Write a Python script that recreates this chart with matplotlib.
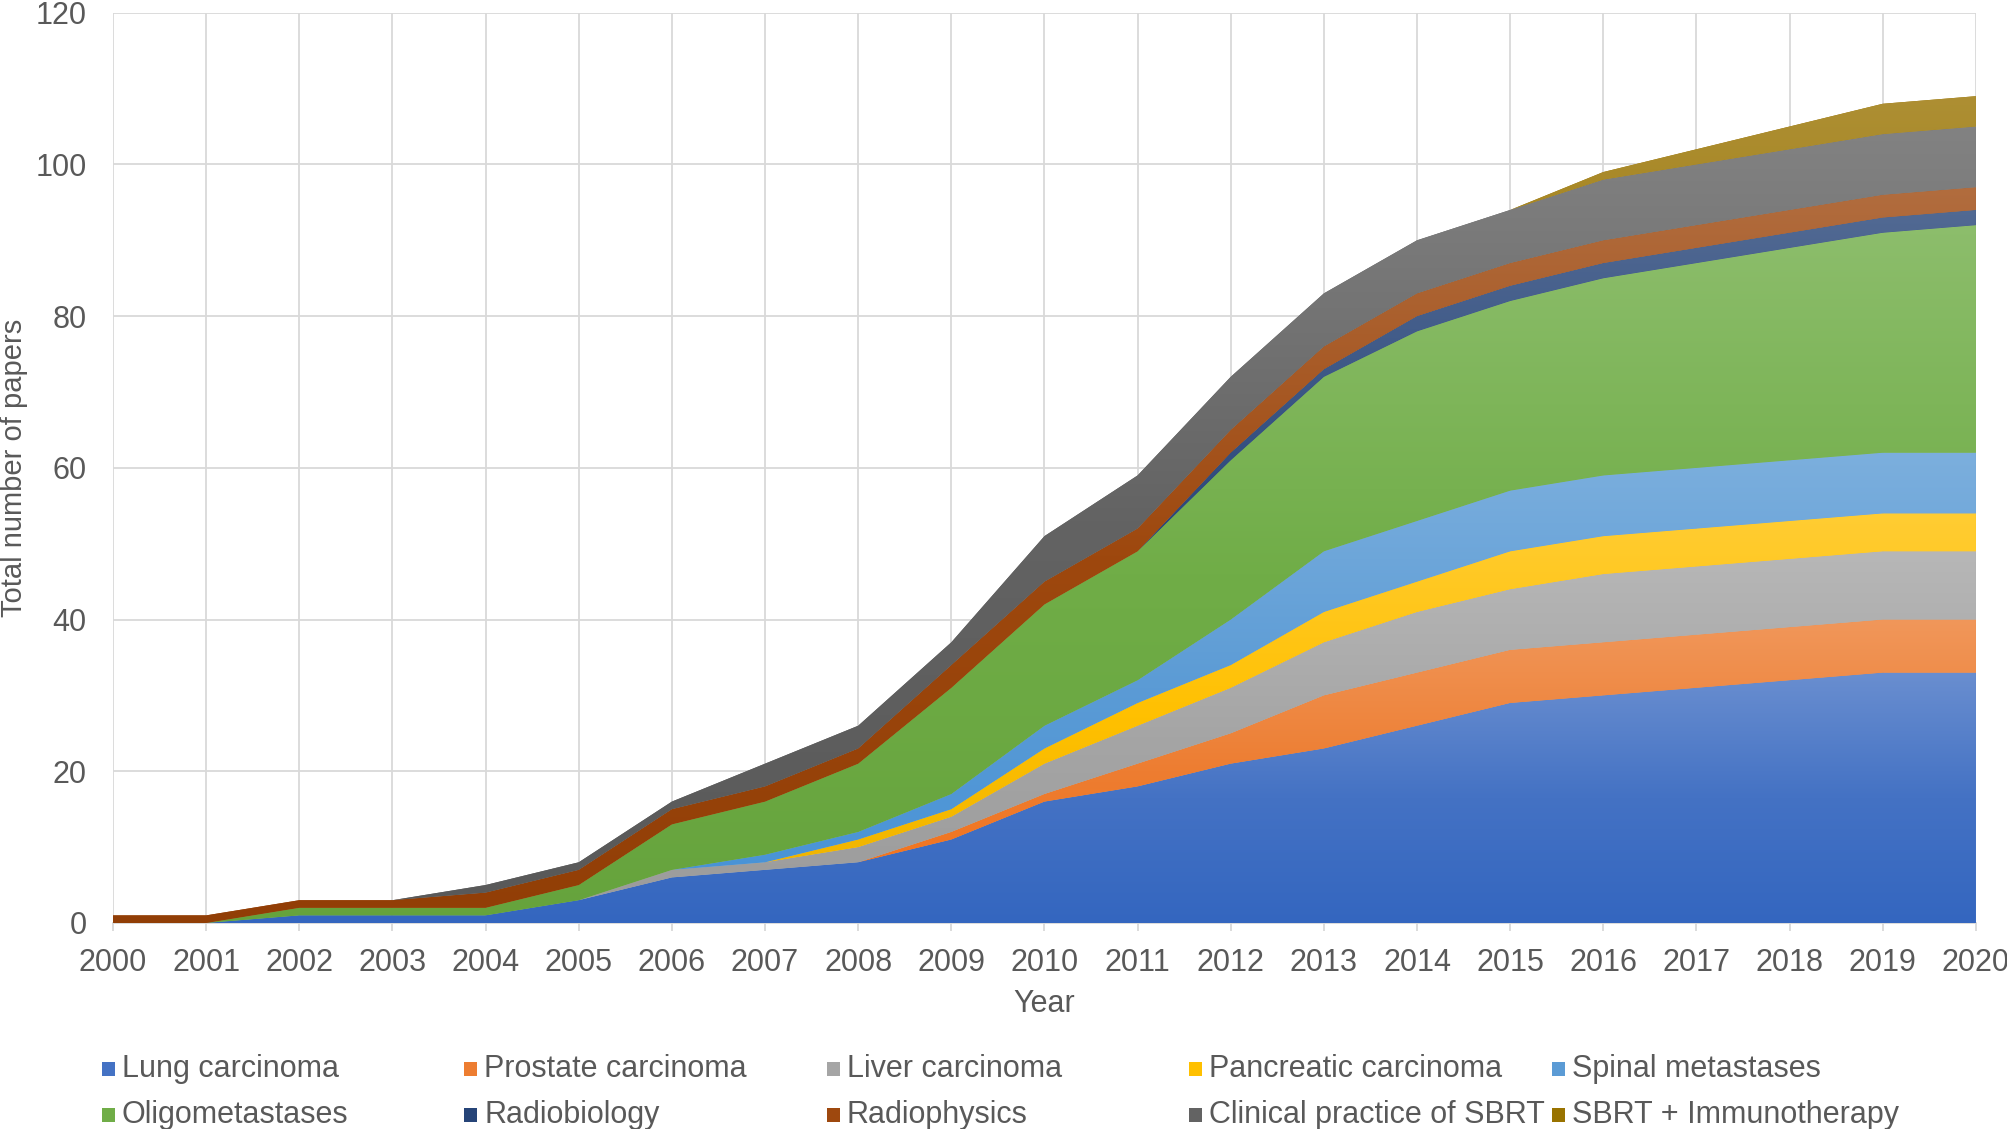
import colorsys
import numpy as np
import matplotlib.pyplot as plt
import matplotlib.colors as mcolors
from matplotlib.patches import Rectangle

plt.rcParams['font.family'] = ['Liberation Sans', 'DejaVu Sans']

# cumulative papers per topic
years = list(range(2000, 2021))
lung = [0, 0, 1, 1, 1, 3, 6, 7, 8, 11, 16, 18, 21, 23, 26, 29, 30, 31, 32, 33, 33]
prostate = [0, 0, 0, 0, 0, 0, 0, 0, 0, 1, 1, 3, 4, 7, 7, 7, 7, 7, 7, 7, 7]
liver = [0, 0, 0, 0, 0, 0, 1, 1, 2, 2, 4, 5, 6, 7, 8, 8, 9, 9, 9, 9, 9]
pancreatic = [0, 0, 0, 0, 0, 0, 0, 0, 1, 1, 2, 3, 3, 4, 4, 5, 5, 5, 5, 5, 5]
spinal = [0, 0, 0, 0, 0, 0, 0, 1, 1, 2, 3, 3, 6, 8, 8, 8, 8, 8, 8, 8, 8]
oligo = [0, 0, 1, 1, 1, 2, 6, 7, 9, 14, 16, 17, 21, 23, 25, 25, 26, 27, 28, 29, 30]
radiobiology = [0, 0, 0, 0, 0, 0, 0, 0, 0, 0, 0, 0, 1, 1, 2, 2, 2, 2, 2, 2, 2]
radiophysics = [1, 1, 1, 1, 2, 2, 2, 2, 2, 3, 3, 3, 3, 3, 3, 3, 3, 3, 3, 3, 3]
clinical = [0, 0, 0, 0, 1, 1, 1, 3, 3, 3, 6, 7, 7, 7, 7, 7, 8, 8, 8, 8, 8]
immuno = [0, 0, 0, 0, 0, 0, 0, 0, 0, 0, 0, 0, 0, 0, 0, 0, 1, 2, 3, 4, 4]

series = [lung, prostate, liver, pancreatic, spinal, oligo,
          radiobiology, radiophysics, clinical, immuno]
labels = ['Lung carcinoma', 'Prostate carcinoma', 'Liver carcinoma',
          'Pancreatic carcinoma', 'Spinal metastases', 'Oligometastases',
          'Radiobiology', 'Radiophysics', 'Clinical practice of SBRT',
          'SBRT + Immunotherapy']
colors = ['#4472C4', '#ED7D31', '#A5A5A5', '#FFC000', '#5B9BD5',
          '#70AD47', '#264478', '#9E480E', '#636363', '#997300']

TXT = '#595959'
GRID = '#D9D9D9'


def lighter(c, t):
    r = np.array(mcolors.to_rgb(c))
    return tuple(r * (1 - t) + t)


def darker(c, dl, ds):
    r, g, b = mcolors.to_rgb(c)
    h, l, s = colorsys.rgb_to_hls(r, g, b)
    return colorsys.hls_to_rgb(h, max(0, l - dl), min(1, s * ds))


fig = plt.figure(figsize=(20.08, 11.29), dpi=100)
ax = fig.add_axes([0.0563, 0.1825, 0.9277, 0.8062])

polys = ax.stackplot(years, *series, colors=colors, linewidth=0, antialiased=True)

# excel style vertical gradient inside each band
for poly, c in zip(polys, colors):
    path = poly.get_paths()[0]
    ys = path.vertices[:, 1]
    y0, y1 = ys.min(), ys.max()
    if y1 - y0 <= 0:
        continue
    top = lighter(c, 0.2)
    bot = darker(c, 0.04, 1.1)
    cmap = mcolors.LinearSegmentedColormap.from_list('g', [bot, c, top])
    grad = np.linspace(0, 1, 256).reshape(-1, 1)
    im = ax.imshow(grad, cmap=cmap, origin='lower', aspect='auto',
                   extent=[years[0], years[-1], y0, y1], zorder=poly.get_zorder())
    im.set_clip_path(path, transform=ax.transData)

ax.set_xlim(2000, 2020)
ax.set_ylim(0, 120)
ax.set_xticks(years)
ax.set_yticks(range(0, 121, 20))
ax.grid(True, color=GRID, linewidth=1.3)
ax.set_axisbelow(True)
for s in ['left', 'right', 'top']:
    ax.spines[s].set_visible(False)
ax.spines['bottom'].set_color(GRID)
ax.spines['bottom'].set_linewidth(1.3)
ax.spines['bottom'].set_zorder(0.5)
ax.tick_params(axis='x', colors=GRID, length=6, width=1.3, pad=12,
               labelcolor=TXT, labelsize=22)
ax.tick_params(axis='y', length=0, pad=19, labelcolor=TXT, labelsize=22)

fig.text(0.0068, 0.586, 'Total number of papers', rotation=90,
         ha='center', va='center', fontsize=21, color=TXT)
fig.text(0.52, 0.1105, 'Year', ha='center', va='center', fontsize=22, color=TXT)

# legend laid out like the excel one: 5 equal columns, 2 rows
W, H = 2008, 1129
for i, (lab, c) in enumerate(zip(labels, colors)):
    col, row = i % 5, i // 5
    x = 102 + col * 362.5
    y = 1069 + row * 46
    fig.add_artist(Rectangle(((x) / W, 1 - (y + 7) / H), 13 / W, 14 / H,
                             transform=fig.transFigure, color=c, lw=0))
    fig.text((x + 20) / W, 1 - y / H, lab, ha='left', va='center',
             fontsize=22, color=TXT)

fig.savefig('out.png', dpi=100)
